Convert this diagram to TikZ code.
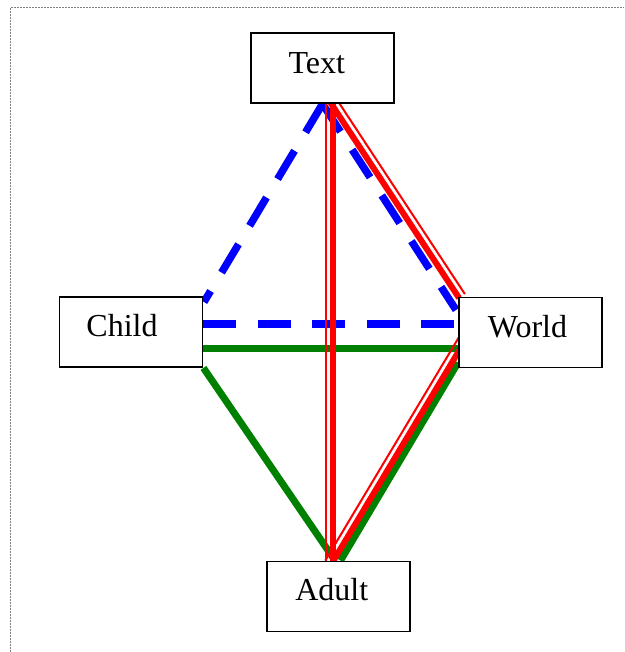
\documentclass[tikz,border=0pt]{standalone}
\usepackage{fontspec}
\setmainfont{Liberation Serif}
\usetikzlibrary{calc,backgrounds}
\begin{document}
\begin{tikzpicture}[x=1pt,y=-1pt,
  box/.style={draw=black, line width=1.9pt, fill=white, minimum width=143pt, minimum height=70pt, inner sep=0pt},
  lbl/.style={anchor=base, inner sep=0pt, font=\fontsize{32}{37}\selectfont},
  bluedash/.style={draw=blue, line width=7.5pt, dash pattern=on 33pt off 21.5pt},
  greenline/.style={draw={rgb,255:red,0;green,128;blue,0}, line width=7pt},
  redthick/.style={draw=red, line width=6pt},
  redthin/.style={draw=red, line width=2pt},
  pageframe/.style={draw=gray, line width=1pt, dash pattern=on 2pt off 1pt}]
\useasboundingbox (0,0) rectangle (624,652);

% boxes
\node[box] (text)  at (322.5,68)  {};
\node[box] (child) at (131,332)   {};
\node[box] (world) at (530.5,332.5) {};
\node[box] (adult) at (338.5,596.5) {};

% labels
\node[lbl] (textlbl)  at (316.7,73.3) {Text};
\node[lbl] (childlbl) at (122,336.7)  {Child};
\node[lbl] (worldlbl) at (527.5,337)  {World};
\node[lbl] (adultlbl) at (331.7,600.5) {Adult};

\begin{pgfonlayer}{background}
  % page frame
  \draw[pageframe] (10.5,652) -- (10.5,7.5) -- (624,7.5);

  % blue dashed
  \draw[bluedash] (text.south) -- ($(child.east)+(0.5,-30)$);
  \draw[bluedash] (text.south) -- ($(world.west)+(-2,-22.5)$);
  \draw[bluedash] ($(child.east)+(0,-8)$) -- ($(world.west)+(0,-8.5)$);

  % green
  \draw[greenline] ($(child.east)+(0,16)$) -- ($(world.west)+(0,15.5)$);
  \draw[greenline] (child.south east) -- ($(adult.north)+(-3.5,0)$);
  \draw[greenline] ($(world.west)+(0,30)$) -- ($(adult.north)+(2,0)$);

  % red double lines (thick + thin)
  \draw[redthick] ($(text.south)+(10.5,-2)$) -- ($(adult.north)+(-5.5,2)$);
  \draw[redthin]  ($(text.south)+(3.5,-2)$) -- ($(adult.north)+(-12.5,2)$);

  \draw[redthick] ($(text.south)+(7.5,-2)$) -- ($(world.west)+(1,-34.5)$);
  \draw[redthin]  ($(text.south)+(13.35,-5.9)$) -- ($(world.west)+(6.85,-38.4)$);

  \draw[redthick] ($(world.west)+(5,11.5)$) -- ($(adult.north)+(-5,0)$);
  \draw[redthin]  ($(world.west)+(1,4.5)$) -- ($(adult.north)+(-13.2,0)$);
\end{pgfonlayer}
\end{tikzpicture}
\end{document}
